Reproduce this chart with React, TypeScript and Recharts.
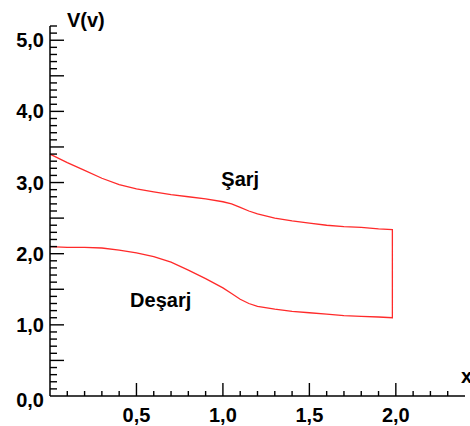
import { LineChart, Line, XAxis, YAxis, ReferenceDot } from 'recharts'

// Şarj (charge) curve
const chargeX = [0, 0.1, 0.2, 0.3, 0.4, 0.5, 0.6, 0.7, 0.8, 0.9, 1.0, 1.05, 1.1, 1.15, 1.2, 1.3, 1.4, 1.5, 1.6, 1.7, 1.8, 1.9, 1.98]
const chargeV = [3.4, 3.28, 3.17, 3.06, 2.97, 2.91, 2.87, 2.83, 2.8, 2.77, 2.73, 2.7, 2.65, 2.6, 2.56, 2.5, 2.46, 2.43, 2.4, 2.38, 2.37, 2.35, 2.34]

// Deşarj (discharge) curve
const dischargeX = [0, 0.1, 0.2, 0.3, 0.4, 0.5, 0.6, 0.7, 0.8, 0.9, 1.0, 1.05, 1.1, 1.15, 1.2, 1.3, 1.4, 1.5, 1.6, 1.7, 1.8, 1.9, 1.98]
const dischargeV = [2.1, 2.09, 2.09, 2.08, 2.05, 2.01, 1.96, 1.88, 1.77, 1.65, 1.52, 1.44, 1.36, 1.3, 1.26, 1.22, 1.19, 1.17, 1.15, 1.13, 1.12, 1.11, 1.1]

const xMajorTicks = [0.5, 1.0, 1.5, 2.0]
const xMajorLabels = ['0,5', '1,0', '1,5', '2,0']
const yMajorTicks = [0, 1, 2, 3, 4, 5]
const yMajorLabels = ['0,0', '1,0', '2,0', '3,0', '4,0', '5,0']

const FONT = '"Liberation Sans", Arial, sans-serif'

// closed loop: charge left->right, then discharge right->left
const loop = [
  ...chargeX.map((x, i) => ({ x, v: chargeV[i] })),
  ...dischargeX.map((x, i) => ({ x, v: dischargeV[i] })).reverse(),
]

// minor ticks every 0.1
const xTicks: number[] = []
for (let i = 0; i <= 23; i++) xTicks.push(i / 10)
const yTicks: number[] = []
for (let i = 0; i <= 52; i++) yTicks.push(i / 10)

const isHalf = (n: number) => Math.abs(n * 2 - Math.round(n * 2)) < 1e-6

function XTick({ x, y, payload }: any) {
  const val = payload.value as number
  const idx = xMajorTicks.findIndex((t) => Math.abs(t - val) < 1e-6)
  const len = isHalf(val) ? 13 : 5
  return (
    <g>
      {val > 0 && <line x1={x} x2={x} y1={y} y2={y - len} stroke="#000" strokeWidth={1.4} />}
      {idx >= 0 && (
        <text x={x} y={y + 19} textAnchor="middle" dominantBaseline="central" fontFamily={FONT} fontWeight="bold" fontSize={20} fill="#000">
          {xMajorLabels[idx]}
        </text>
      )}
    </g>
  )
}

function YTick({ x, y, payload }: any) {
  const val = payload.value as number
  const idx = yMajorTicks.findIndex((t) => Math.abs(t - val) < 1e-6)
  const len = isHalf(val) ? 14 : 7
  return (
    <g>
      {val > 0 && <line x1={x} x2={x + len} y1={y} y2={y} stroke="#000" strokeWidth={1.4} />}
      {idx >= 0 && (
        <text x={x - 6} y={val === 0 ? y + 4 : y} textAnchor="end" dominantBaseline="central" fontFamily={FONT} fontWeight="bold" fontSize={20} fill="#000">
          {yMajorLabels[idx]}
        </text>
      )}
    </g>
  )
}

const annot = { fill: '#000', fontSize: 20, fontWeight: 'bold', fontFamily: FONT }

export default function App() {
  return (
    <div style={{ position: 'absolute', left: 0, top: 0, width: 470, height: 426, background: '#fff' }}>
      <LineChart width={470} height={426} data={loop} margin={{ top: 26, right: 5, left: 0, bottom: 0 }}>
        <XAxis
          dataKey="x"
          type="number"
          domain={[0, 2.4]}
          ticks={xTicks}
          interval={0}
          height={30}
          tickSize={0}
          tickMargin={0}
          tickLine={false}
          tick={<XTick />}
          axisLine={{ stroke: '#000', strokeWidth: 1.5 }}
        />
        <YAxis
          type="number"
          domain={[0, 5.2]}
          ticks={yTicks}
          interval={0}
          width={50}
          tickSize={0}
          tickMargin={0}
          tickLine={false}
          tick={<YTick />}
          axisLine={{ stroke: '#000', strokeWidth: 1.5 }}
        />
        <Line type="linear" dataKey="v" stroke="#ff2a2a" strokeWidth={1.3} dot={false} isAnimationActive={false} />
        <ReferenceDot x={1.1} y={3.05} r={0} stroke="none" fill="none" label={{ value: 'Şarj', position: 'center', ...annot }} />
        <ReferenceDot x={0.64} y={1.35} r={0} stroke="none" fill="none" label={{ value: 'Deşarj', position: 'center', ...annot }} />
      </LineChart>
      <div style={{ position: 'absolute', left: 67, top: 8, fontFamily: FONT, fontWeight: 'bold', fontSize: 20, lineHeight: '24px' }}>V(v)</div>
      <div style={{ position: 'absolute', left: 461, top: 364, fontFamily: FONT, fontWeight: 'bold', fontSize: 20, lineHeight: '24px' }}>x</div>
    </div>
  )
}
